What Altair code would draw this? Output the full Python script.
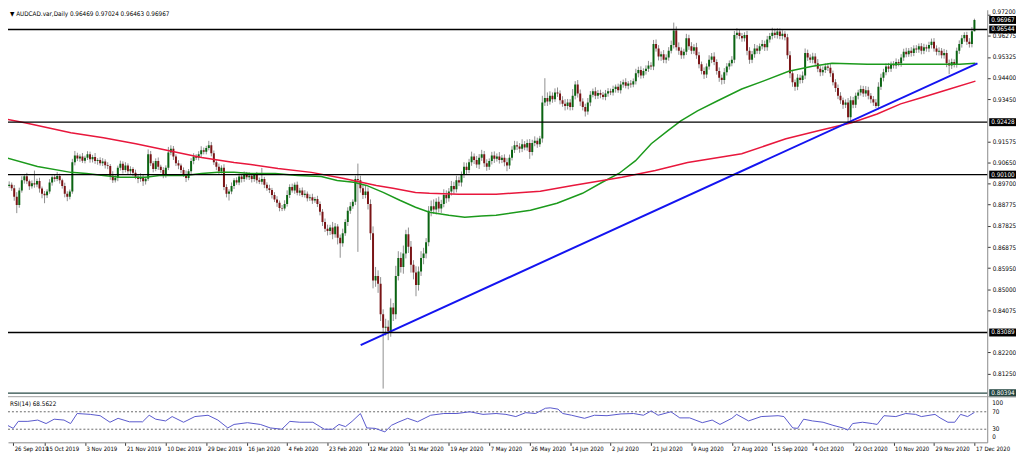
import altair as alt
import pandas as pd

# ---------------- data ----------------
date_labels = ["26 Sep 2019", "15 Oct 2019", "3 Nov 2019", "21 Nov 2019", "10 Dec 2019",
               "29 Dec 2019", "16 Jan 2020", "4 Feb 2020", "23 Feb 2020", "12 Mar 2020",
               "31 Mar 2020", "19 Apr 2020", "7 May 2020", "26 May 2020", "14 Jun 2020",
               "2 Jul 2020", "21 Jul 2020", "9 Aug 2020", "27 Aug 2020", "15 Sep 2020",
               "4 Oct 2020", "22 Oct 2020", "10 Nov 2020", "29 Nov 2020", "17 Dec 2020"]

first_open = 0.8975
closes = [
    0.8968, 0.8960, 0.8965, 0.8950, 0.8912, 0.8875, 0.8940, 0.8985, 0.9003, 0.8980, 0.8958, 0.8972, 0.8966, 0.8982, 0.8948, 0.8925,
    0.8918, 0.8935, 0.8975, 0.8998, 0.8990, 0.9004, 0.8985, 0.8960, 0.8925, 0.8912, 0.8935, 0.9065, 0.9095, 0.9082, 0.9090, 0.9072,
    0.9085, 0.9100, 0.9078, 0.9088, 0.9070, 0.9075, 0.9060, 0.9068, 0.9052, 0.9048, 0.9005, 0.8985, 0.8995, 0.9040, 0.9058, 0.9030,
    0.9050, 0.9025, 0.9035, 0.9018, 0.9000, 0.8990, 0.8998, 0.8980, 0.8992, 0.9100, 0.9060, 0.9035, 0.9070, 0.9045, 0.9030, 0.9010,
    0.9040, 0.9108, 0.9125, 0.9090, 0.9060, 0.9050, 0.9030, 0.9012, 0.8995, 0.9025, 0.9070, 0.9090, 0.9085, 0.9100, 0.9118, 0.9112,
    0.9128, 0.9140, 0.9105, 0.9065, 0.9045, 0.9025, 0.9040, 0.8955, 0.8925, 0.8935, 0.8960, 0.8985, 0.8975, 0.9002, 0.8990, 0.9010,
    0.8998, 0.9005, 0.8990, 0.9008, 0.8985, 0.8978, 0.8990, 0.8965, 0.8950, 0.8942, 0.8920, 0.8900, 0.8885, 0.8862, 0.8860, 0.8880,
    0.8920, 0.8955, 0.8940, 0.8965, 0.8930, 0.8940, 0.8920, 0.8925, 0.8905, 0.8910, 0.8895, 0.8902, 0.8880, 0.8845, 0.8800, 0.8770,
    0.8760, 0.8775, 0.8745, 0.8780, 0.8730, 0.8705, 0.8750, 0.8800, 0.8850, 0.8870, 0.8890, 0.8990, 0.8985, 0.8950, 0.8920, 0.8935,
    0.8880, 0.8750, 0.8540, 0.8560, 0.8525, 0.8390, 0.8330, 0.8335, 0.8315, 0.8420, 0.8390, 0.8560, 0.8640, 0.8600, 0.8660, 0.8745,
    0.8690, 0.8610, 0.8575, 0.8520, 0.8580, 0.8640, 0.8660, 0.8710, 0.8850, 0.8870, 0.8855, 0.8890, 0.8860, 0.8880, 0.8920, 0.8905,
    0.8935, 0.8960, 0.8945, 0.8985, 0.8975, 0.9010, 0.9045, 0.9030, 0.9065, 0.9090, 0.9075, 0.9055, 0.9085, 0.9100, 0.9060, 0.9045,
    0.9070, 0.9095, 0.9080, 0.9090, 0.9075, 0.9085, 0.9065, 0.9050, 0.9085, 0.9120, 0.9140, 0.9135, 0.9125, 0.9145, 0.9130, 0.9150,
    0.9110, 0.9150, 0.9160, 0.9145, 0.9170, 0.9330, 0.9350, 0.9335, 0.9360, 0.9345, 0.9375, 0.9370, 0.9340, 0.9325, 0.9315, 0.9330,
    0.9310, 0.9360, 0.9410, 0.9370, 0.9335, 0.9310, 0.9290, 0.9330, 0.9365, 0.9380, 0.9360, 0.9372, 0.9365, 0.9355, 0.9370, 0.9380,
    0.9375, 0.9390, 0.9400, 0.9385, 0.9410, 0.9420, 0.9405, 0.9415, 0.9410, 0.9425, 0.9460, 0.9475, 0.9450, 0.9470, 0.9480, 0.9495,
    0.9490, 0.9590, 0.9570, 0.9535, 0.9545, 0.9520, 0.9530, 0.9560, 0.9585, 0.9650, 0.9575, 0.9560, 0.9540, 0.9555, 0.9615, 0.9580,
    0.9560, 0.9575, 0.9540, 0.9500, 0.9470, 0.9455, 0.9490, 0.9520, 0.9535, 0.9510, 0.9470, 0.9440, 0.9430, 0.9465, 0.9490, 0.9505,
    0.9520, 0.9630, 0.9640, 0.9625, 0.9615, 0.9630, 0.9560, 0.9520, 0.9545, 0.9570, 0.9560, 0.9580, 0.9590, 0.9575, 0.9610, 0.9625,
    0.9640, 0.9630, 0.9645, 0.9625, 0.9635, 0.9620, 0.9540, 0.9460, 0.9420, 0.9400, 0.9440, 0.9430, 0.9450, 0.9550, 0.9530, 0.9520,
    0.9535, 0.9505, 0.9480, 0.9465, 0.9475, 0.9490, 0.9485, 0.9460, 0.9420, 0.9395, 0.9360, 0.9340, 0.9320, 0.9330, 0.9265, 0.9340,
    0.9320, 0.9360, 0.9375, 0.9390, 0.9370, 0.9385, 0.9360, 0.9345, 0.9330, 0.9315, 0.9400, 0.9440, 0.9465, 0.9490, 0.9480, 0.9500,
    0.9495, 0.9510, 0.9505, 0.9530, 0.9555, 0.9545, 0.9560, 0.9550, 0.9570, 0.9565, 0.9580, 0.9560, 0.9575, 0.9570, 0.9585, 0.9600,
    0.9570, 0.9555, 0.9560, 0.9540, 0.9550, 0.9505, 0.9495, 0.9510, 0.9500, 0.9560, 0.9590, 0.9615, 0.9630, 0.9600, 0.9590, 0.9647,
    0.96967,
]

# upper / lower shadow lengths, in pips
wick_up = [
    12, 8, 15, 10, 14, 20, 12, 18, 10, 15, 8, 12, 56, 10, 14, 9,
    12, 10, 15, 8, 12, 18, 10, 7, 14, 11, 9, 15, 20, 12, 10, 16,
    9, 14, 12, 10, 18, 8, 12, 15, 10, 13, 9, 20, 12, 10, 14, 11,
    15, 10, 12, 8, 14, 10, 18, 12, 9, 22, 15, 10, 12, 16, 9, 13,
    11, 25, 15, 12, 10, 14, 9, 12, 16, 10, 13, 15, 11, 14, 18, 12,
    10, 20, 15, 12, 9, 14, 11, 16, 12, 10, 15, 9, 13, 12, 10, 14,
    12, 15, 10, 9, 14, 12, 50, 10, 11, 15, 9, 12, 14, 10, 13, 16,
    20, 12, 15, 10, 14, 11, 13, 16, 10, 12, 15, 9, 14, 11, 12, 15,
    18, 12, 25, 15, 10, 14, 20, 12, 15, 18, 10, 15, 69, 20, 15, 25,
    18, 20, 30, 40, 25, 30, 22, 35, 28, 40, 20, 45, 30, 25, 35, 20,
    30, 25, 20, 28, 22, 30, 25, 18, 20, 25, 30, 15, 22, 18, 25, 20,
    15, 22, 18, 20, 16, 14, 20, 18, 15, 22, 14, 18, 16, 20, 15, 18,
    12, 16, 18, 14, 20, 12, 15, 18, 14, 16, 20, 18, 15, 22, 14, 16,
    18, 15, 20, 14, 12, 30, 88, 25, 20, 15, 18, 22, 14, 18, 20, 16,
    15, 30, 15, 20, 18, 14, 15, 20, 16, 12, 18, 14, 15, 12, 16, 14,
    12, 15, 10, 14, 16, 12, 18, 10, 15, 12, 20, 14, 16, 12, 15, 20,
    14, 18, 20, 15, 12, 18, 14, 16, 20, 35, 18, 22, 15, 14, 20, 16,
    18, 14, 20, 15, 12, 16, 14, 20, 15, 18, 12, 16, 14, 18, 15, 12,
    16, 18, 20, 15, 14, 12, 18, 16, 14, 20, 15, 12, 18, 15, 16, 14,
    22, 18, 15, 14, 16, 12, 15, 18, 14, 12, 16, 14, 18, 20, 15, 14,
    16, 14, 18, 12, 15, 14, 16, 18, 12, 14, 15, 16, 12, 14, 20, 18,
    15, 14, 12, 16, 14, 18, 15, 12, 14, 16, 20, 18, 15, 14, 16, 12,
    14, 16, 12, 15, 14, 18, 12, 16, 14, 15, 12, 14, 16, 12, 15, 14,
    16, 14, 15, 12, 18, 14, 16, 15, 12, 14, 16, 15, 12, 14, 16, 18,
    5.7,
]
wick_dn = [
    10, 14, 9, 12, 18, 36, 12, 10, 15, 12, 16, 10, 14, 12, 18, 20,
    35, 12, 10, 14, 12, 9, 15, 12, 16, 20, 12, 10, 14, 12, 15, 10,
    12, 10, 15, 14, 12, 16, 10, 12, 15, 14, 18, 12, 10, 14, 12, 15,
    10, 14, 12, 15, 10, 18, 12, 20, 14, 10, 12, 15, 10, 14, 12, 16,
    14, 10, 12, 15, 12, 16, 14, 12, 18, 10, 12, 14, 10, 12, 15, 12,
    12, 10, 14, 12, 15, 12, 10, 14, 16, 30, 12, 14, 10, 12, 15, 12,
    10, 12, 15, 12, 14, 10, 12, 15, 12, 14, 16, 12, 18, 15, 12, 10,
    12, 14, 10, 15, 12, 14, 10, 12, 14, 12, 15, 10, 14, 16, 18, 15,
    20, 18, 22, 15, 30, 64, 15, 12, 18, 14, 12, 15, 318, 20, 18, 15,
    25, 30, 35, 28, 40, 30, 270, 35, 40, 25, 30, 22, 20, 25, 30, 22,
    28, 35, 30, 50, 25, 20, 28, 22, 18, 25, 20, 22, 18, 20, 15, 22,
    15, 18, 20, 14, 16, 18, 15, 20, 14, 16, 18, 15, 20, 14, 16, 18,
    14, 15, 18, 12, 16, 14, 18, 25, 15, 12, 14, 16, 18, 15, 12, 14,
    30, 15, 14, 16, 12, 18, 15, 20, 14, 16, 12, 15, 18, 14, 20, 16,
    15, 14, 16, 18, 20, 15, 22, 14, 16, 12, 15, 14, 16, 12, 15, 14,
    12, 14, 16, 12, 15, 14, 12, 16, 14, 12, 15, 18, 14, 12, 16, 14,
    15, 16, 14, 18, 20, 15, 16, 14, 12, 15, 14, 18, 16, 15, 14, 16,
    15, 14, 16, 18, 15, 20, 16, 14, 15, 14, 16, 18, 20, 17, 15, 14,
    14, 15, 16, 14, 15, 14, 20, 18, 15, 16, 14, 15, 14, 16, 15, 14,
    15, 14, 16, 14, 15, 14, 16, 22, 20, 18, 15, 16, 14, 16, 15, 14,
    16, 14, 15, 18, 16, 14, 15, 16, 14, 18, 15, 16, 18, 14, 22, 16,
    15, 14, 16, 14, 15, 14, 16, 18, 15, 9, 15, 14, 16, 14, 15, 14,
    14, 15, 14, 16, 15, 14, 12, 16, 14, 15, 14, 16, 15, 14, 16, 15,
    14, 15, 16, 14, 15, 18, 39, 16, 14, 15, 14, 16, 15, 14, 16, 15,
    0.6,
]

# moving averages (bar index, value)
ma_fast_bar = [0.4, 13.2, 26.4, 32.6, 39.3, 45.9, 56, 61.4, 71.5, 78.1, 84.7, 91, 97.6, 107.3, 116.2,
               125.5, 131.8, 138.4, 143.4, 150, 156.6, 162.8, 168.3, 176, 182.3, 188.9, 194.7, 208.3,
               218.8, 228.9, 236.7, 243.3, 249.9, 256.1, 262.7, 267.8, 274.4, 282.2, 291.9, 300.4,
               310.5, 319.9, 327.6, 341.6, 354.8, 367.7, 378.2, 384.4]
ma_fast_val = [0.9086, 0.9046, 0.9020, 0.9015, 0.9006, 0.8998, 0.8998, 0.9006, 0.9006, 0.9015, 0.9020,
               0.9020, 0.9015, 0.9015, 0.9006, 0.9002, 0.8984, 0.8976, 0.8962, 0.8931, 0.8896, 0.8865,
               0.8843, 0.8830, 0.8821, 0.8826, 0.8830, 0.8852, 0.8883, 0.8927, 0.8976, 0.9015, 0.9072,
               0.9147, 0.9205, 0.9249, 0.9293, 0.9337, 0.9390, 0.9425, 0.9469, 0.9491, 0.9504, 0.9500,
               0.9500, 0.9500, 0.9500, 0.9504]
ma_slow_bar = [0.4, 8.2, 26.4, 39.3, 52.1, 65.3, 78.1, 91, 97.6, 108.4, 121.6, 134.5, 147.3, 153.9,
               162.8, 168.3, 179.9, 194.7, 212.2, 225, 244.5, 257.7, 270.5, 291.9, 309.4, 322.2,
               335.4, 345.5, 354.8, 362.6, 374.2, 384.4]
ma_slow_val = [0.9257, 0.9240, 0.9196, 0.9174, 0.9147, 0.9116, 0.9086, 0.9064, 0.9055, 0.9037, 0.9020,
               0.8993, 0.8962, 0.8949, 0.8931, 0.8927, 0.8923, 0.8923, 0.8936, 0.8962, 0.8998, 0.9028,
               0.9064, 0.9103, 0.9169, 0.9205, 0.9240, 0.9279, 0.9324, 0.9350, 0.9390, 0.9425]

# trend line end points
trend_bar = [141.1, 385.2]
trend_val = [0.8253, 0.9504]

# horizontal levels
level_prices = [0.96544, 0.92428, 0.90100, 0.83089, 0.80394]
level_colors = ["#000000", "#000000", "#000000", "#000000", "#294a46"]
box_prices = [0.96967, 0.96544, 0.92428, 0.90100, 0.83089, 0.80394]
box_colors = ["#000000", "#000000", "#000000", "#000000", "#000000", "#234540"]

price_ticks = [0.97200, 0.96275, 0.95325, 0.94400, 0.93450, 0.91575, 0.90650, 0.89700,
               0.88775, 0.87825, 0.86875, 0.85950, 0.85000, 0.84075, 0.82200, 0.81250]
top_tick = 0.97200

# RSI(14) (bar index, value)
rsi_bar = [0, 3.6, 5.6, 9.4, 13.3, 16.6, 19.8, 23.7, 26.3, 28.9, 34.1, 38, 41.9, 45.1, 49.6, 54.8,
           57.4, 60, 63.9, 66.5, 71, 75.5, 80.7, 84.6, 88.5, 91, 96.3, 101.4, 105.3, 109.9, 113.1,
           117, 122.2, 126.7, 130, 132.5, 135.1, 137.7, 141, 143.5, 146.8, 150.7, 153.3, 155.9,
           159.7, 163.6, 168.8, 174, 179.2, 184.3, 189.5, 194.7, 198.6, 202.5, 206.4, 210.3, 214.2,
           216.1, 219.2, 221.1, 224.6, 229.7, 233.6, 238.6, 244.1, 249.1, 253, 256.1, 258.8, 263.9,
           267.4, 271.3, 276.3, 280.2, 283.3, 288, 289.9, 294.6, 299.6, 306.3, 308.6, 312.1, 314,
           316.4, 319.9, 324.1, 328, 331.9, 333.9, 335.8, 339.7, 343.6, 345.5, 348.2, 352.9, 356.8,
           360.7, 363, 368.4, 370.4, 373.5, 376.2, 378.5, 381.3, 384]
rsi_val = [43, 32, 48, 48, 51, 43, 53, 51, 43, 66, 64, 61, 46, 55, 47, 47, 62, 53, 49, 59, 46, 59,
           62, 51, 33, 41, 45, 41, 33, 30, 48, 46, 46, 30, 30, 41, 36, 48, 66, 33, 32, 24, 39, 46,
           55, 47, 62, 66, 66, 70, 64, 66, 64, 59, 68, 66, 78, 79, 76, 66, 62, 55, 62, 61, 65, 66,
           62, 72, 62, 70, 56, 56, 45, 51, 41, 55, 64, 49, 59, 61, 59, 33, 32, 53, 49, 46, 39, 33,
           28, 43, 46, 43, 41, 61, 59, 66, 64, 59, 64, 56, 46, 46, 64, 59, 68.56]
rsi_levels = [70, 30]

title_text = "\u25BC  AUDCAD.var,Daily  0.96469 0.97024 0.96463 0.96967"
rsi_text = "RSI(14) 68.5622"

# ---------------- build tables ----------------
BULL, BEAR = "#0a6412", "#7a1416"
n = min(len(closes), len(wick_up), len(wick_dn))
opens = [first_open] + closes[:n - 1]
rows = []
for i in range(n):
    o, c = opens[i], closes[i]
    rows.append(dict(i=i, open=o, close=c,
                     high=max(o, c) + wick_up[i] / 10000.0,
                     low=min(o, c) - wick_dn[i] / 10000.0,
                     col=BULL if c >= o else BEAR))
candles = pd.DataFrame(rows)

ma_df = pd.DataFrame(
    [dict(bar=b, val=v, series="fast", col="#1c9a1c") for b, v in zip(ma_fast_bar, ma_fast_val)] +
    [dict(bar=b, val=v, series="slow", col="#e8173c") for b, v in zip(ma_slow_bar, ma_slow_val)])
trend_df = pd.DataFrame(dict(bar=trend_bar, val=trend_val))
levels_df = pd.DataFrame(dict(price=level_prices, col=level_colors))
boxes_df = pd.DataFrame(dict(price=box_prices, col=box_colors,
                             label=[f"{p:.5f}" for p in box_prices]))
rsi_df = pd.DataFrame(dict(bar=rsi_bar[:len(rsi_val)], val=rsi_val[:len(rsi_bar)]))
rsi_lv_df = pd.DataFrame(dict(v=rsi_levels))
top_df = pd.DataFrame(dict(price=[top_tick], label=[f"{top_tick:.5f}"]))
one = pd.DataFrame(dict(a=[0]))

# ---------------- layout ----------------
W, H = 987, 436
FONT = "Tahoma, 'DejaVu Sans Condensed', 'Liberation Sans', sans-serif"
FS = 6.4
FSX = 6.0

xs = alt.Scale(domain=[3.5, 387.1], nice=False, zero=False)
ps = alt.Scale(domain=[0.78213, 0.97420], nice=False, zero=False)
rs = alt.Scale(domain=[0, 990.9], nice=False, zero=False)

label_expr = "[" + ",".join(f"'{d}'" for d in date_labels) + "][round(datum.value/16)]"
x_axis = alt.Axis(values=[3.6] + [16 * k for k in range(1, len(date_labels))],
                  labelExpr=label_expr, title=None, grid=False, orient="bottom",
                  tickSize=3, tickColor="#333333", domainColor="#8a8a8a",
                  labelAlign="left", labelBaseline="top", labelPadding=0, labelOffset=1,
                  labelFont=FONT, labelFontSize=FSX, labelColor="#000000",
                  labelOverlap=False, labelFlush=False, labelBound=False)
y_axis = alt.Axis(values=price_ticks, orient="right", title=None, grid=False,
                  labelExpr=f"datum.value > {top_tick - 0.00001} ? '' : format(datum.value, '.5f')",
                  tickSize=3, tickColor="#333333", domainColor="#8a8a8a",
                  labelPadding=2, labelFont=FONT, labelFontSize=FS, labelColor="#000000",
                  labelOverlap=False, labelBound=False, zindex=0)


def X(f):
    return alt.X(f, type="quantitative", scale=xs, axis=x_axis, title=None)


def YP(f):
    return alt.Y(f, type="quantitative", scale=ps, axis=None)


def YR(f):
    return alt.Y(f, type="quantitative", scale=rs, axis=None)


wicks = alt.Chart(candles).mark_rule(color="#8f8f8f", strokeWidth=1, clip=True).encode(
    x=X("i"),
    y=alt.Y("low:Q", scale=ps, axis=y_axis),
    y2="high:Q")

bodies = alt.Chart(candles).mark_bar(size=2, clip=True).encode(
    x=X("i"), y=YP("open"), y2="close",
    color=alt.Color("col:N", scale=None))

mas = alt.Chart(ma_df).mark_line(strokeWidth=1.5, clip=True).encode(
    x=X("bar"), y=YP("val"),
    color=alt.Color("col:N", scale=None), detail="series:N")

trend = alt.Chart(trend_df).mark_line(color="#1414f0", strokeWidth=2, clip=True).encode(
    x=X("bar"), y=YP("val"))

levels = alt.Chart(levels_df).mark_rule(strokeWidth=1.3).encode(
    y=YP("price"), x=alt.value(0), x2=alt.value(W),
    color=alt.Color("col:N", scale=None))

boxes = alt.Chart(boxes_df).mark_rect(yOffset=-4, y2Offset=4).encode(
    y=YP("price"), y2="price", x=alt.value(W + 2), x2=alt.value(W + 29),
    color=alt.Color("col:N", scale=None))

box_text = alt.Chart(boxes_df).mark_text(align="left", baseline="middle", color="white",
                                         font=FONT, fontSize=FS).encode(
    y=YP("price"), x=alt.value(W + 4), text="label:N")

top_label = alt.Chart(top_df).mark_text(align="left", baseline="middle", dy=-2.5, color="#000000",
                                        font=FONT, fontSize=FS).encode(
    y=YP("price"), x=alt.value(W + 5), text="label:N")

title = alt.Chart(one).mark_text(align="left", baseline="top", color="#000000",
                                 font=FONT, fontSize=FS).encode(
    x=alt.value(2), y=alt.value(1), text=alt.value(title_text))

separator = alt.Chart(one).mark_rule(color="#a0a0a0", strokeWidth=1).encode(
    x=alt.value(0), x2=alt.value(W + 29), y=alt.value(390))

rsi_levels_l = alt.Chart(rsi_lv_df).mark_rule(color="#444444", strokeWidth=0.8,
                                              strokeDash=[2, 2]).encode(
    y=YR("v"), x=alt.value(0), x2=alt.value(W))

rsi_line = alt.Chart(rsi_df).mark_line(color="#5858cc", strokeWidth=1, clip=True).encode(
    x=X("bar"), y=YR("val"))

rsi_lab_mid = alt.Chart(pd.DataFrame(dict(v=[70, 30]))).mark_text(
    align="left", baseline="middle", font=FONT, fontSize=FS, color="#000000").encode(
    y=YR("v"), x=alt.value(W + 5), text="v:Q")
rsi_lab_top = alt.Chart(pd.DataFrame(dict(v=[100]))).mark_text(
    align="left", baseline="top", dy=1, font=FONT, fontSize=FS, color="#000000").encode(
    y=YR("v"), x=alt.value(W + 5), text="v:Q")
rsi_lab_bot = alt.Chart(pd.DataFrame(dict(v=[0]))).mark_text(
    align="left", baseline="bottom", dy=-2, font=FONT, fontSize=FS, color="#000000").encode(
    y=YR("v"), x=alt.value(W + 5), text="v:Q")

rsi_title = alt.Chart(one).mark_text(align="left", baseline="middle", color="#000000",
                                     font=FONT, fontSize=FS).encode(
    x=alt.value(2), y=alt.value(397.5), text=alt.value(rsi_text))

chart = alt.layer(
    wicks, bodies, mas, trend, levels, boxes, box_text, top_label, title, separator,
    rsi_levels_l, rsi_line, rsi_lab_mid, rsi_lab_top, rsi_lab_bot, rsi_title
).resolve_scale(y="independent").properties(
    width=W, height=H,
    autosize=alt.AutoSizeParams(type="none"),
    padding={"left": 0, "top": 0, "right": 29, "bottom": 11},
    background="white",
).configure_view(stroke=None)

chart.save("out.html", embed_options={"renderer": "svg", "actions": False})
